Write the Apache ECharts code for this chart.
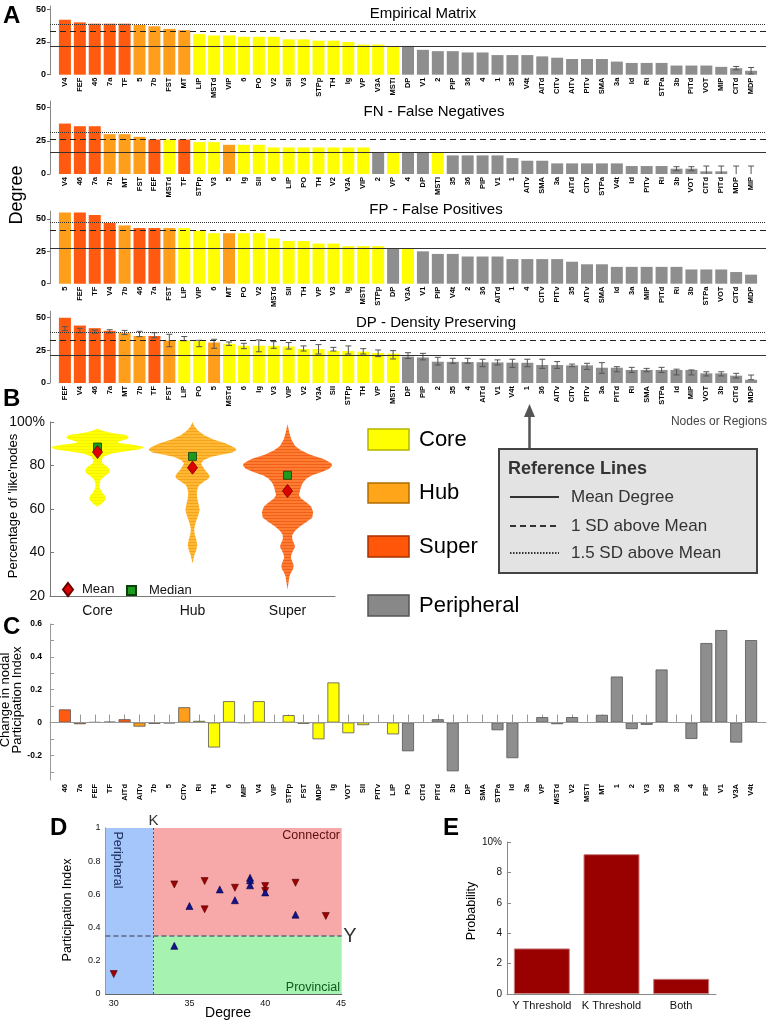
<!DOCTYPE html>
<html>
<head>
<meta charset="utf-8">
<script src="https://cdn.jsdelivr.net/npm/echarts@6.0.0/dist/echarts.min.js"></script>
<style>
  html, body { margin: 0; padding: 0; background: #fff; }
  #main { width: 768px; height: 1022px; }
</style>
</head>
<body>
<div id="main"></div>
<script>
// ---------- data ----------
// node classes (from the empirical matrix)
const superNodes = ['V4', 'FEF', '46', '7a', 'TF']
const hubNodes = ['5', '7b', 'FST', 'MT']
const coreNodes = ['LIP', 'MSTd', 'VIP', '6', 'PO', 'V2', 'SII', 'V3', 'STPp', 'TH', 'Ig', 'VP', 'V3A', 'MSTl']

// A - degree panels
const empNames = ['V4','FEF','46','7a','TF','5','7b','FST','MT','LIP','MSTd','VIP','6','PO','V2','SII','V3','STPp','TH','Ig','VP','V3A','MSTl','DP','V1','2','PIP','36','4','1','35','V4t','AITd','CITv','AITv','PITv','SMA','3a','Id','Ri','STPa','3b','PITd','VOT','MIP','CITd','MDP']
const empVals = [42,40,39,39,39,38,37,35,34,31,30,30,29,29,29,27,27,26,26,25,23,23,22,22,19,18,18,17,17,15,15,15,14,13,12,12,12,10,9,9,9,7,7,7,6,5,3]
const empErrNames = ['CITd', 'MDP']
const empErrVals = [1.3, 2.5]

const fnNames = ['V4','46','7a','7b','MT','FST','FEF','MSTd','TF','STPp','V3','5','Ig','SII','6','LIP','PO','TH','V2','V3A','VIP','2','VP','4','DP','MSTl','35','36','PIP','V1','1','AITv','SMA','3a','AITd','CITv','STPa','V4t','Id','PITv','Ri','3b','VOT','CITd','PITd','MDP','MIP']
const fnVals = [38,36,36,30,30,28,26,26,26,24,24,22,22,22,20,20,20,20,20,20,20,16,16,16,16,16,14,14,14,14,12,10,10,8,8,8,8,8,6,6,6,4,4,2,2,0,0]
const fnErrNames = ['3b', 'VOT', 'CITd', 'PITd', 'MDP', 'MIP']
const fnErrVals = [1.5, 1.5, 4, 4, 6, 6]

const fpNames = ['5','FEF','TF','V4','7b','46','7a','FST','LIP','VIP','6','MT','PO','V2','MSTd','SII','TH','VP','V3','Ig','MSTl','STPp','DP','V3A','V1','PIP','V4t','2','36','AITd','1','4','CITv','PITv','35','AITv','SMA','Id','3a','MIP','PITd','Ri','3b','STPa','VOT','CITd','MDP']
const fpVals = [55,55,53,47,45,43,43,43,43,41,39,39,39,39,35,33,33,31,31,29,29,29,27,27,25,23,23,21,21,21,19,19,19,19,17,15,15,13,13,13,13,13,11,11,11,9,7]

const dpNames = ['FEF','V4','46','7a','MT','7b','TF','FST','LIP','PO','5','MSTd','6','Ig','V3','VIP','V2','V3A','SII','STPp','TH','VP','MSTl','DP','PIP','2','35','4','AITd','V1','V4t','1','36','AITv','CITv','PITv','3a','PITd','Ri','SMA','STPa','Id','MIP','VOT','3b','CITd','MDP']
const dpVals = [50,44,42,40,38.5,36,36,32.5,32.5,32,31,30,28.5,28.5,28.5,28,26,26,24.5,24.5,24,23,22.5,20.2,19.6,16.3,16.2,16.1,15.9,15.8,15.6,15.5,13.8,13.8,13.5,13.5,11.7,11.7,10,10,10,10,10,7.4,7.4,5.6,2.5]
const dpLo = [40.1,38.5,38.1,38.3,37.1,35.5,34.6,27.8,32.4,27.8,26.6,28.8,26.3,23.9,26.6,26.0,24.5,22.2,24.5,22.2,22.2,20.2,18.4,18.8,17.7,13.8,15.1,15.1,12.5,13.8,12.0,12.5,11.2,11.2,12.5,10.4,7.4,8.6,8.0,8.6,8.0,6.2,6.2,5.4,5.4,3.8,2.5]
const dpHi = [43.2,41.9,40.6,40.8,40.3,39.6,38.5,37.3,35.6,32.7,33.5,31.4,30.4,33.0,31.7,31.0,28.4,29.4,27.3,28.4,26.3,25.3,24.8,23.2,22.7,19.7,18.9,18.9,18.2,17.7,18.2,18.2,18.2,16.4,14.5,15.1,15.6,12.5,12.0,11.2,12.0,10.6,10.0,8.6,8.6,7.4,6.1]

// reference lines: empirical, FN, FP, DP
const refMean = [21.7, 16.5, 27.4, 20.9]
const refSd1 = [33.1, 26, 41, 33]
const refSd15 = [38.7, 31.3, 47.4, 38.8]

// B - violins: [percentage, half width as fraction of the category band]
const bCats = ['Core', 'Hub', 'Super']
const bMean = [86.2, 79, 68.3]
const bMedian = [88.5, 84.2, 75.5]
const violinCore = [[61,0],[62,0.03],[63,0.06],[64.5,0.085],[66,0.08],[67.5,0.05],[69.5,0.025],[71.5,0.02],[73.5,0.035],[75,0.07],[76.5,0.12],[78,0.13],[79.5,0.1],[81,0.05],[82.5,0.045],[84,0.06],[85.5,0.15],[86.5,0.3],[87.5,0.45],[88.5,0.49],[89.5,0.38],[90.3,0.22],[91,0.22],[92,0.3],[93,0.33],[94,0.3],[95,0.15],[96,0.05],[97,0]]
const violinHub = [[35,0],[37,0.01],[39,0.02],[41,0.04],[43.5,0.05],[46,0.04],[48,0.025],[50,0.018],[51.5,0.02],[54,0.035],[57,0.06],[59.5,0.075],[62,0.065],[65,0.05],[67,0.045],[69,0.05],[71,0.07],[72.5,0.12],[74,0.17],[75,0.18],[76,0.17],[78,0.13],[80,0.1],[81,0.09],[82.5,0.12],[84,0.2],[85,0.3],[86,0.42],[87,0.46],[88,0.45],[90,0.36],[92,0.22],[94,0.12],[96,0.06],[98,0.02],[100,0]]
const violinSuper = [[23,0],[26,0.01],[29,0.02],[31,0.04],[32.5,0.06],[34,0.065],[36,0.05],[37.5,0.035],[39,0.04],[41,0.06],[42.5,0.08],[44,0.07],[46,0.05],[48,0.05],[50,0.08],[52,0.13],[54,0.2],[56,0.26],[58.5,0.27],[61,0.25],[63,0.2],[65,0.14],[66.5,0.12],[68,0.13],[70,0.14],[72,0.16],[74,0.2],[75.5,0.26],[77,0.36],[78.5,0.44],[80,0.47],[81,0.46],[83,0.38],[85,0.24],[87,0.14],[89,0.08],[92,0.04],[95,0.02],[97,0.01],[99,0]]

// C - change in participation index
const cNames = ['46','7a','FEF','TF','AITd','AITv','7b','5','CITv','Ri','TH','6','MIP','V4','VIP','STPp','FST','MDP','Ig','VOT','SII','PITv','LIP','PO','CITd','PITd','3b','DP','SMA','STPa','Id','3a','VP','MSTd','V2','MSTl','MT','1','2','V3','35','36','4','PIP','V1','V3A','V4t']
const cVals = [0.08,-0.01,0.002,0.005,0.02,-0.025,-0.008,-0.005,0.093,0.01,-0.152,0.13,-0.002,0.13,0,0.045,-0.008,-0.102,0.244,-0.065,-0.016,0,-0.072,-0.175,0,0.02,-0.297,0,0,-0.047,-0.217,0,0.033,-0.01,0.033,0,0.047,0.28,-0.04,-0.014,0.323,0,-0.1,0.484,0.563,-0.122,0.502]
const cClass = 'SSSSSHHHHCCCCCCCCCCCCCCPPPPPPPPPPPPPPPPPPPPPPPP'.split('')

// D - degree vs participation
const kThreshold = 32.6
const yThreshold = 0.35
const dRedX = [30, 34, 36, 36, 38, 40, 40, 42, 44]
const dRedY = [0.12, 0.66, 0.68, 0.51, 0.64, 0.65, 0.62, 0.67, 0.47]
const dBlueX = [34, 35, 37, 38, 39, 39, 39, 40, 42]
const dBlueY = [0.29, 0.53, 0.63, 0.565, 0.70, 0.685, 0.655, 0.612, 0.478]

// E - probability
const eCats = ['Y Threshold', 'K Threshold', 'Both']
const eVals = [3.0, 9.2, 1.0]

// ---------- styles ----------
const FONT = "'Liberation Sans', Arial, sans-serif"
const C_SUPER = '#ff5a0f'
const C_HUB = '#ff9e1a'
const C_CORE = '#ffff00'
const C_PERI = '#8e8e8e'

function nodeColor (n) {
  if (superNodes.includes(n)) return C_SUPER
  if (hubNodes.includes(n)) return C_HUB
  if (coreNodes.includes(n)) return C_CORE
  return C_PERI
}
const classColor = { S: C_SUPER, H: C_HUB, C: C_CORE, P: C_PERI }

function stripe (bg, line) {
  const c = document.createElement('canvas')
  c.width = 4
  c.height = 3
  const ctx = c.getContext('2d')
  ctx.fillStyle = bg
  ctx.fillRect(0, 0, 4, 3)
  ctx.fillStyle = line
  ctx.fillRect(0, 2, 4, 1)
  return { image: c, repeat: 'repeat' }
}

function errItem (params, api) {
  const x = api.value(0)
  const p1 = api.coord([x, api.value(2)])
  const p2 = api.coord([x, api.value(1)])
  const s = { stroke: '#555', lineWidth: 1 }
  return {
    type: 'group',
    children: [
      { type: 'line', shape: { x1: p1[0], y1: p1[1], x2: p2[0], y2: p2[1] }, style: s },
      { type: 'line', shape: { x1: p1[0] - 3, y1: p1[1], x2: p1[0] + 3, y2: p1[1] }, style: s },
      { type: 'line', shape: { x1: p2[0] - 3, y1: p2[1], x2: p2[0] + 3, y2: p2[1] }, style: s }
    ]
  }
}

function sparseErr (names, vals, errNames, errVals) {
  return errNames.map((n, k) => {
    const i = names.indexOf(n)
    return [i + 1, vals[i] - errVals[k], vals[i] + errVals[k]]
  })
}

// ---------- A panels ----------
const aPanels = [
  { names: empNames, vals: empVals, err: sparseErr(empNames, empVals, empErrNames, empErrVals), top: 6, height: 68.7, max: 52.5 },
  { names: fnNames, vals: fnVals, err: sparseErr(fnNames, fnVals, fnErrNames, fnErrVals), top: 101, height: 73, max: 55 },
  { names: fpNames, vals: fpVals, err: [], top: 211.2, height: 72.5, max: 56 },
  { names: dpNames, vals: dpVals, err: dpNames.map((n, i) => [i + 1, dpLo[i], dpHi[i]]), top: 311.2, height: 71.8, max: 55 }
]

const grid = []
const xAxis = []
const yAxis = []
const series = []

aPanels.forEach((p, k) => {
  grid.push({ left: 50, top: p.top, width: 716, height: p.height, containLabel: false, outerBoundsMode: 'none' })
  xAxis.push({
    gridIndex: k, type: 'value', min: 0, max: 48, interval: 1,
    axisLine: { show: false }, axisTick: { show: false }, splitLine: { show: false },
    axisLabel: {
      rotate: 90, fontSize: 7.5, fontWeight: 'bold', color: '#000', margin: 3, fontFamily: FONT,
      formatter: v => p.names[Math.round(v) - 1] || ''
    }
  })
  yAxis.push({
    gridIndex: k, type: 'value', min: 0, max: p.max,
    axisLine: { show: true, lineStyle: { color: '#888' } },
    axisTick: { show: true, length: 3, lineStyle: { color: '#666' }, customValues: [0, 25, 50] },
    axisLabel: { customValues: [0, 25, 50], fontSize: 9, fontWeight: 'bold', color: '#000', margin: 4, fontFamily: FONT },
    splitLine: { show: false }
  })
  series.push({
    type: 'bar', xAxisIndex: k, yAxisIndex: k, barWidth: 12,
    data: p.vals.map((v, i) => ({ value: [i + 1, v], itemStyle: { color: nodeColor(p.names[i]) } })),
    markLine: {
      silent: true, symbol: 'none', label: { show: false }, z: 5,
      data: [
        { yAxis: refMean[k], lineStyle: { type: 'solid', color: '#333', width: 1.2 } },
        { yAxis: refSd1[k], lineStyle: { type: [6, 4], color: '#222', width: 1 } },
        { yAxis: refSd15[k], lineStyle: { type: [1, 1], color: '#333', width: 1 } }
      ]
    }
  })
  if (p.err.length) {
    series.push({
      type: 'custom', xAxisIndex: k, yAxisIndex: k, clip: true, z: 4,
      renderItem: errItem, encode: { x: 0, y: [1, 2] }, data: p.err
    })
  }
})

// ---------- B violins ----------
grid.push({ left: 50, top: 422, width: 285, height: 174, containLabel: false, outerBoundsMode: 'none' })
xAxis.push({
  gridIndex: 4, type: 'category', data: bCats,
  axisLine: { lineStyle: { color: '#777' } },
  axisTick: { alignWithLabel: true, inside: true, length: 5, lineStyle: { color: '#777' } },
  axisLabel: { fontSize: 14, color: '#111', margin: 8, fontFamily: FONT }
})
yAxis.push({
  gridIndex: 4, type: 'value', min: 20, max: 100, interval: 20,
  axisLine: { show: true, lineStyle: { color: '#777' } },
  axisTick: { show: true, inside: true, length: 4, lineStyle: { color: '#777' } },
  splitLine: { show: false },
  axisLabel: { fontSize: 14, color: '#111', margin: 5, fontFamily: FONT, formatter: v => v === 100 ? '100%' : String(v) }
})
const violinProfiles = [violinCore, violinHub, violinSuper]
const violinFills = [stripe('#ffff00', '#f4f400'), stripe('#ffb935', '#f5a21c'), stripe('#ff7c30', '#f0601c')]
series.push({
  type: 'custom', xAxisIndex: 4, yAxisIndex: 4, z: 2,
  encode: { x: 0, y: 1 },
  data: [[0, 60], [1, 60], [2, 60]],
  renderItem: function (params, api) {
    const prof = violinProfiles[params.dataIndex]
    const cat = api.value(0)
    const band = api.size([1, 0])[0]
    const left = []
    const right = []
    prof.forEach(pt => {
      const c = api.coord([cat, pt[0]])
      left.push([c[0] - pt[1] * band, c[1]])
      right.push([c[0] + pt[1] * band, c[1]])
    })
    return { type: 'polygon', shape: { points: left.concat(right.reverse()) }, style: { fill: violinFills[params.dataIndex] } }
  }
})
series.push({
  name: 'Median', type: 'scatter', xAxisIndex: 4, yAxisIndex: 4, z: 5,
  symbol: 'rect', symbolSize: 8,
  itemStyle: { color: '#1e9a1e', borderColor: '#0a400a', borderWidth: 0.8, opacity: 1 },
  data: bMedian.map((v, i) => [i, v])
})
series.push({
  name: 'Mean', type: 'scatter', xAxisIndex: 4, yAxisIndex: 4, z: 6,
  symbol: 'diamond', symbolSize: [10, 13],
  itemStyle: { color: '#e00000', borderColor: '#600', borderWidth: 0.8, opacity: 1 },
  data: bMean.map((v, i) => [i, v])
})

// ---------- C participation change ----------
grid.push({ left: 50, top: 624, width: 716, height: 156, containLabel: false, outerBoundsMode: 'none' })
xAxis.push({
  gridIndex: 5, type: 'value', min: 0, max: 48, interval: 1,
  axisLine: { show: true, lineStyle: { color: '#999' } },
  axisTick: { show: true, inside: true, length: 8, lineStyle: { color: '#999' }, customValues: cNames.map((n, i) => i + 1) },
  splitLine: { show: false },
  axisLabel: {
    rotate: 90, fontSize: 7.5, fontWeight: 'bold', color: '#000', margin: 4, fontFamily: FONT,
    customValues: cNames.map((n, i) => i + 1),
    formatter: v => cNames[Math.round(v) - 1] || ''
  }
})
yAxis.push({
  gridIndex: 5, type: 'value', min: -0.35, max: 0.6,
  axisLine: { show: true, lineStyle: { color: '#999' } },
  axisTick: { show: true, inside: true, length: 4, lineStyle: { color: '#999' }, customValues: [-0.3, -0.2, -0.1, 0, 0.1, 0.2, 0.3, 0.4, 0.5, 0.6] },
  splitLine: { show: false },
  axisLabel: {
    customValues: [-0.2, 0, 0.2, 0.4, 0.6], fontSize: 8.5, fontWeight: 'bold', color: '#000', margin: 8, fontFamily: FONT,
    formatter: v => Math.abs(v) < 1e-9 ? '0' : v.toFixed(1)
  }
})
series.push({
  type: 'bar', xAxisIndex: 5, yAxisIndex: 5, barWidth: 12,
  data: cVals.map((v, i) => ({ value: [i + 1, v], itemStyle: { color: classColor[cClass[i]], borderColor: '#555', borderWidth: 0.8 } })),
  markLine: {
    silent: true, symbol: 'none', label: { show: false },
    data: [{ yAxis: 0, lineStyle: { type: 'solid', color: '#999', width: 1 } }]
  }
})

// ---------- D scatter ----------
grid.push({ left: 105.4, top: 828, width: 236.3, height: 166, containLabel: false, outerBoundsMode: 'none' })
xAxis.push({
  gridIndex: 6, type: 'value', min: 29.45, max: 45.05,
  axisLine: { show: true, lineStyle: { color: '#666' } },
  axisTick: { show: false },
  splitLine: { show: false },
  axisLabel: { customValues: [30, 35, 40, 45], fontSize: 9, color: '#111', margin: 5, fontFamily: FONT }
})
yAxis.push({
  gridIndex: 6, type: 'value', min: 0, max: 1, interval: 0.2,
  axisLine: { show: true, lineStyle: { color: '#666' } },
  axisTick: { show: true, inside: true, length: 3, lineStyle: { color: '#666' } },
  splitLine: { show: false },
  axisLabel: { fontSize: 9, color: '#111', margin: 5, fontFamily: FONT, formatter: v => (v === 0 || v === 1) ? String(v) : v.toFixed(1) }
})
series.push({
  type: 'scatter', xAxisIndex: 6, yAxisIndex: 6, z: 1, data: [],
  markArea: {
    silent: true,
    data: [
      [{ xAxis: 29.45, yAxis: 0, itemStyle: { color: '#a4c6fb', opacity: 1 } }, { xAxis: kThreshold, yAxis: 1 }],
      [{ xAxis: kThreshold, yAxis: yThreshold, itemStyle: { color: '#f7a8a8', opacity: 1 } }, { xAxis: 45.05, yAxis: 1 }],
      [{ xAxis: kThreshold, yAxis: 0, itemStyle: { color: '#a6f3b1', opacity: 1 } }, { xAxis: 45.05, yAxis: yThreshold }]
    ]
  },
  markLine: {
    silent: true, symbol: 'none', label: { show: false },
    data: [
      { xAxis: kThreshold, lineStyle: { type: [2, 2], color: '#555', width: 1 } },
      { yAxis: yThreshold, lineStyle: { type: [5, 3], color: '#5a6580', width: 1.5 } }
    ]
  }
})
series.push({
  type: 'scatter', xAxisIndex: 6, yAxisIndex: 6, z: 5,
  symbol: 'triangle', symbolRotate: 180, symbolSize: 7,
  itemStyle: { color: '#a00000', borderColor: '#400', borderWidth: 0.6, opacity: 1 },
  data: dRedX.map((x, i) => [x, dRedY[i]])
})
series.push({
  type: 'scatter', xAxisIndex: 6, yAxisIndex: 6, z: 5,
  symbol: 'triangle', symbolSize: 7,
  itemStyle: { color: '#14148c', borderColor: '#000040', borderWidth: 0.6, opacity: 1 },
  data: dBlueX.map((x, i) => [x, dBlueY[i]])
})

// ---------- E probability ----------
grid.push({ left: 507, top: 842, width: 209, height: 152, containLabel: false, outerBoundsMode: 'none' })
xAxis.push({
  gridIndex: 7, type: 'category', data: eCats,
  axisLine: { lineStyle: { color: '#888' } },
  axisTick: { show: false },
  axisLabel: { interval: 0, fontSize: 11, color: '#111', margin: 6, fontFamily: FONT }
})
yAxis.push({
  gridIndex: 7, type: 'value', min: 0, max: 10, interval: 2,
  axisLine: { show: true, lineStyle: { color: '#888' } },
  axisTick: { show: true, inside: true, length: 4, lineStyle: { color: '#888' } },
  splitLine: { show: false },
  axisLabel: { fontSize: 10, color: '#111', margin: 5, fontFamily: FONT, formatter: v => v === 10 ? '10%' : String(v) }
})
series.push({
  type: 'bar', xAxisIndex: 7, yAxisIndex: 7, barWidth: 56,
  itemStyle: { color: '#990000', borderColor: '#c98080', borderWidth: 1 },
  data: eVals
})

// ---------- annotations ----------
function txt (x, y, text, size, opts) {
  const o = opts || {}
  return {
    type: 'text', x, y, z: 100, rotation: o.rotation || 0,
    style: {
      text, fill: o.fill || '#000', fontSize: size, fontFamily: FONT, fontWeight: o.weight || 'normal',
      align: o.align || 'center', verticalAlign: 'middle', lineHeight: o.lineHeight
    }
  }
}
function swatch (y, h, fill, stroke) {
  return { type: 'rect', z: 50, shape: { x: 368, y, width: 41, height: h }, style: { fill, stroke, lineWidth: 1.5 } }
}
const graphics = [
  txt(3, 16, 'A', 24, { weight: 'bold', align: 'left' }),
  txt(3, 399, 'B', 24, { weight: 'bold', align: 'left' }),
  txt(3, 627, 'C', 24, { weight: 'bold', align: 'left' }),
  txt(50, 828, 'D', 24, { weight: 'bold', align: 'left' }),
  txt(443, 828, 'E', 24, { weight: 'bold', align: 'left' }),
  txt(423, 14, 'Empirical Matrix', 15),
  txt(434, 112, 'FN - False Negatives', 15),
  txt(436, 210, 'FP - False Positives', 15),
  txt(436, 323, 'DP - Density Preserving', 15),
  txt(17, 195, 'Degree', 18, { rotation: Math.PI / 2 }),
  txt(767, 422, 'Nodes or Regions', 12, { align: 'right', fill: '#444' }),
  // arrow to node "1"
  { type: 'line', z: 50, shape: { x1: 529.5, y1: 449, x2: 529.5, y2: 414 }, style: { stroke: '#555', lineWidth: 2.5 } },
  { type: 'polygon', z: 50, shape: { points: [[529.5, 404], [524, 417], [535, 417]] }, style: { fill: '#555' } },
  // reference lines box
  { type: 'rect', z: 50, shape: { x: 499, y: 449, width: 258, height: 124 }, style: { fill: '#e3e3e3', stroke: '#444', lineWidth: 2 } },
  txt(508, 469, 'Reference Lines', 18, { weight: 'bold', align: 'left', fill: '#333' }),
  { type: 'line', z: 60, shape: { x1: 510, y1: 497, x2: 559, y2: 497 }, style: { stroke: '#333', lineWidth: 2 } },
  { type: 'line', z: 60, shape: { x1: 510, y1: 526, x2: 559, y2: 526 }, style: { stroke: '#333', lineWidth: 2, lineDash: [6, 4] } },
  { type: 'line', z: 60, shape: { x1: 510, y1: 553, x2: 559, y2: 553 }, style: { stroke: '#333', lineWidth: 2, lineDash: [1.5, 1.5] } },
  txt(571, 497, 'Mean Degree', 17, { align: 'left', fill: '#333' }),
  txt(571, 526, '1 SD above Mean', 17, { align: 'left', fill: '#333' }),
  txt(571, 553, '1.5 SD above Mean', 17, { align: 'left', fill: '#333' }),
  // class legend
  swatch(429, 21, C_CORE, '#b5b500'),
  swatch(483, 20, '#ffa51a', '#b06e00'),
  swatch(536, 21, '#ff560a', '#a83000'),
  swatch(595, 21, '#888', '#555'),
  txt(419, 440, 'Core', 22, { align: 'left' }),
  txt(419, 493, 'Hub', 22, { align: 'left' }),
  txt(419, 546.5, 'Super', 22, { align: 'left' }),
  txt(419, 605.5, 'Peripheral', 22, { align: 'left' }),
  txt(13, 506, "Percentage of 'like'nodes", 13, { rotation: Math.PI / 2 }),
  txt(11, 700, 'Change in nodal\nParticipation Index', 13, { rotation: Math.PI / 2, lineHeight: 12 }),
  // D annotations
  txt(117, 860, 'Peripheral', 12.5, { rotation: -Math.PI / 2, fill: '#1c2e5c' }),
  txt(340, 836, 'Connector', 12.5, { align: 'right', fill: '#5c0d0d' }),
  txt(340, 988, 'Provincial', 12.5, { align: 'right', fill: '#0f5a1c' }),
  txt(153.5, 821, 'K', 15, { fill: '#333' }),
  txt(350, 936, 'Y', 20, { fill: '#333' }),
  txt(68, 910, 'Participation Index', 12.5, { rotation: Math.PI / 2 }),
  txt(228, 1013, 'Degree', 14),
  txt(472, 911, 'Probability', 12.5, { rotation: Math.PI / 2 })
]

const chart = echarts.init(document.getElementById('main'), null, { renderer: 'canvas' })
chart.setOption({
  animation: false,
  backgroundColor: '#fff',
  textStyle: { fontFamily: FONT },
  legend: [
    {
      data: ['Mean'], left: 57, top: 577, itemWidth: 10, itemHeight: 13,
      selectedMode: false, textStyle: { fontSize: 13, color: '#111', fontFamily: FONT, padding: [0, 0, 0, 4] }
    },
    {
      data: ['Median'], left: 121, top: 579, itemWidth: 9, itemHeight: 9,
      selectedMode: false, textStyle: { fontSize: 13, color: '#111', fontFamily: FONT, padding: [0, 0, 0, 8] }
    }
  ],
  grid,
  xAxis,
  yAxis,
  series,
  graphic: { elements: graphics }
})
</script>
</body>
</html>
